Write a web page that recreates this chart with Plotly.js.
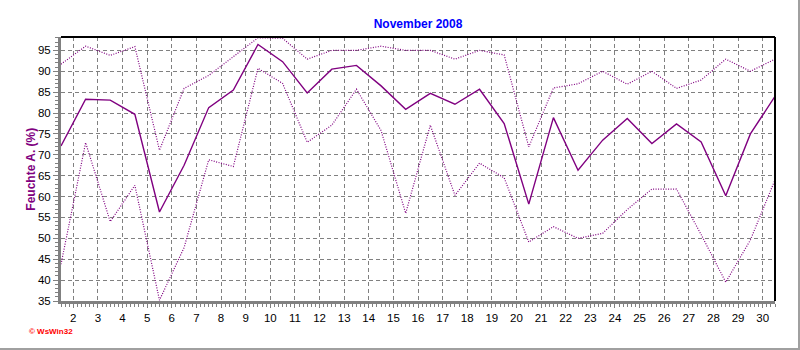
<!DOCTYPE html>
<html>
<head>
<meta charset="utf-8">
<script src="https://cdn.plot.ly/plotly-3.0.1.min.js"></script>
<style>
  html, body { margin: 0; padding: 0; background: #ffffff; }
  #chart { width: 798px; height: 348px; border-right: 2px solid #a0a0a0; border-bottom: 2px solid #a0a0a0; }
</style>
</head>
<body>
<div id="chart"></div>
<script>
// Data: relative humidity (%) per day, November 2008
var days = [1,2,3,4,5,6,7,8,9,10,11,12,13,14,15,16,17,18,19,20,21,22,23,24,25,26,27,28,29,30];
var humMean = [72.1,83.3,83.1,79.7,56.3,67.5,81.3,85.5,96.4,92.3,84.8,90.5,91.4,86.5,80.9,84.7,82.1,85.7,77.5,58.2,78.9,66.3,73.5,78.7,72.7,77.4,73.1,60.2,75.0,84.0];
var humMax  = [91.7,96.0,93.8,95.9,71.1,85.9,89.0,93.5,98.0,97.9,92.9,95.0,95.0,96.0,95.0,95.0,92.9,95.0,93.9,71.9,86.0,87.0,90.0,86.9,90.0,85.9,87.9,92.9,90.0,92.9];
var humMin  = [43.8,72.9,54.0,62.7,35.2,47.8,68.8,67.2,90.7,87.1,73.0,77.1,85.7,75.8,56.0,77.1,60.3,68.0,64.5,49.1,52.8,50.0,51.2,56.9,61.8,61.8,50.9,39.5,49.6,64.0];
var xTicks = [2,3,4,5,6,7,8,9,10,11,12,13,14,15,16,17,18,19,20,21,22,23,24,25,26,27,28,29,30];
var yTicks = [35,40,45,50,55,60,65,70,75,80,85,90,95];

var xs = days.map(function(d){ return d + 0.5; });
var purple = '#800080';

var traces = [
  { x: xs, y: humMax, type: 'scatter', mode: 'lines', line: { color: purple, width: 1.2, dash: '1px,1.5px' }, hoverinfo: 'skip' },
  { x: xs, y: humMin, type: 'scatter', mode: 'lines', line: { color: purple, width: 1.2, dash: '1px,1.5px' }, hoverinfo: 'skip' },
  { x: xs, y: humMean, type: 'scatter', mode: 'lines', line: { color: purple, width: 1.4 }, hoverinfo: 'skip' }
];

var layout = {
  width: 798, height: 348,
  margin: { l: 61, r: 23, t: 37, b: 47 },
  paper_bgcolor: '#ffffff', plot_bgcolor: '#ffffff',
  showlegend: false,
  font: { family: 'Liberation Sans, Arial, sans-serif', size: 11, color: '#000000' },
  title: { text: '<b>November 2008</b>', font: { family: 'Liberation Sans, Arial, sans-serif', size: 12, color: '#0000ff' }, x: 0.5, xref: 'paper', y: 0.932, yref: 'container', xanchor: 'center', yanchor: 'middle' },
  xaxis: {
    range: [1.5, 30.5], tickmode: 'array', tickvals: xTicks, ticktext: xTicks.map(String),
    showgrid: true, gridcolor: '#808080', griddash: '4px,3px', gridwidth: 1,
    zeroline: false, showline: true, linecolor: '#808080', linewidth: 3,
    ticks: 'outside', ticklen: 4, tickcolor: '#808080', tickwidth: 1,
    minor: { dtick: 1/6, tick0: 0, ticks: 'outside', ticklen: 3, tickcolor: '#808080', showgrid: false },
    tickfont: { size: 11.5, color: '#000000' }, fixedrange: true
  },
  yaxis: {
    range: [35, 98.2], tickmode: 'array', tickvals: yTicks, ticktext: yTicks.map(String),
    showgrid: true, gridcolor: '#808080', griddash: '4px,3px', gridwidth: 1,
    zeroline: false, showline: true, linecolor: '#808080', linewidth: 3,
    ticks: 'outside', ticklen: 5, tickcolor: '#808080', tickwidth: 1,
    minor: { dtick: 1, tick0: 0, ticks: 'outside', ticklen: 3, tickcolor: '#808080', showgrid: false },
    tickfont: { size: 11.5, color: '#000000' },
    fixedrange: true
  },
  shapes: [
    { type: 'line', xref: 'paper', yref: 'paper', x0: 0, x1: 1, y0: 1, y1: 1, line: { color: '#000000', width: 2 } },
    { type: 'line', xref: 'paper', yref: 'paper', x0: 1, x1: 1, y0: 0, y1: 1, line: { color: '#000000', width: 2 } }
  ],
  annotations: [
    { text: '<b>Feuchte A. (%)</b>', xref: 'paper', yref: 'paper', x: -0.0425, y: 0.5, xanchor: 'center', yanchor: 'middle', textangle: -90, showarrow: false, font: { size: 12, color: purple, family: 'Liberation Sans, Arial, sans-serif' } },
    { text: '<b>© WsWin32</b>', xref: 'paper', yref: 'paper', x: -0.047, y: -0.115, xanchor: 'left', yanchor: 'middle', showarrow: false, font: { size: 8, color: '#ff0000', family: 'Liberation Sans, Arial, sans-serif' } }
  ]
};

Plotly.newPlot('chart', traces, layout, { displayModeBar: false, staticPlot: true });
</script>
</body>
</html>
